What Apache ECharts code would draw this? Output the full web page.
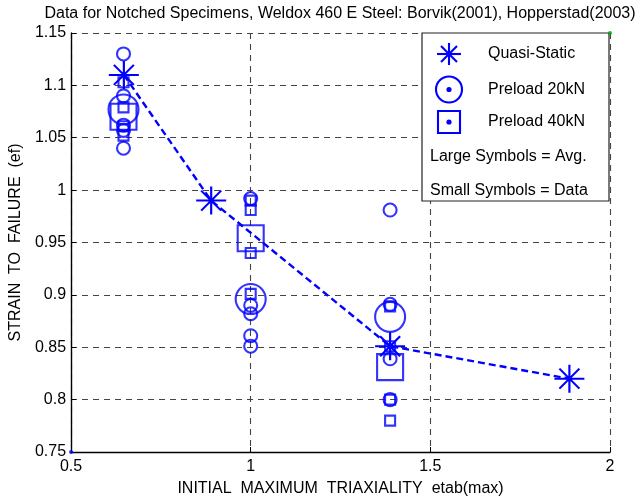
<!DOCTYPE html>
<html><head><meta charset="utf-8">
<script src="https://cdn.jsdelivr.net/npm/echarts@6/dist/echarts.min.js"></script>
<style>html,body{margin:0;padding:0;background:#fff}#c{width:639px;height:502px}</style>
</head><body><div id="c"></div>
<script>
const titleText = 'Data for Notched Specimens, Weldox 460 E Steel: Borvik(2001), Hopperstad(2003)';
const xName = 'INITIAL  MAXIMUM  TRIAXIALITY  etab(max)';
const yName = 'STRAIN  TO  FAILURE  (ef)';
const legendNames = ['Quasi-Static', 'Preload 20kN', 'Preload 40kN'];
const legendNotes = ['Large Symbols = Avg.', 'Small Symbols = Data'];

// Quasi-static (asterisks joined by dashed line)
const quasiX = [0.647, 0.89, 1.388, 1.887];
const quasiY = [1.11, 0.99, 0.851, 0.82];

// triaxiality of the preload test groups
const groupX = [0.646, 1.0, 1.388];
// Preload 20kN: data (small circles) and average (large circle)
const p20Data = [[1.13, 1.09, 1.062, 1.057, 1.04], [0.992, 0.89, 0.882, 0.861, 0.851], [0.981, 0.891, 0.839, 0.80]];
const p20Avg = [1.077, 0.896, 0.879];
// Preload 40kN: data (small squares) and average (large square)
const p40Data = [[1.103, 1.079, 1.061, 1.052], [0.99, 0.981, 0.94, 0.901], [0.889, 0.851, 0.80, 0.78]];
const p40Avg = [1.07, 0.954, 0.831];
// corner dots present in the source figure
const cornerDots = [[2, 1.15, '#00a000'], [0.5, 0.75, '#0000ff']];

const BLUE = '#0000ff';
const FONT = 'Liberation Sans, Arial, Helvetica, sans-serif';
const FS = 16;
const LW = 2.1;
const star = 'path://M0,-14L0,14M-15,0L15,0M-10,-10L10,10M-10,10L10,-10';

const pts = (groups) => groups.flatMap((g, i) => g.map(v => [groupX[i], v]));
const avgPts = (a) => a.map((v, i) => [groupX[i], v]);
const hollow = { color: 'rgba(0,0,0,0)', borderColor: BLUE, borderWidth: LW };

const chart = echarts.init(document.getElementById('c'), null, { renderer: 'canvas' });

const LX = 449;
const legendGraphic = [
  { type: 'rect', shape: { x: 422, y: 33, width: 187, height: 168 }, style: { fill: '#fff', stroke: '#222', lineWidth: 1.2 }, z: 10 },
  { type: 'line', shape: { x1: LX - 12, y1: 54, x2: LX + 12, y2: 54 }, style: { stroke: BLUE, lineWidth: LW }, z: 11 },
  { type: 'line', shape: { x1: LX, y1: 43, x2: LX, y2: 65 }, style: { stroke: BLUE, lineWidth: LW }, z: 11 },
  { type: 'line', shape: { x1: LX - 8, y1: 46, x2: LX + 8, y2: 62 }, style: { stroke: BLUE, lineWidth: LW }, z: 11 },
  { type: 'line', shape: { x1: LX - 8, y1: 62, x2: LX + 8, y2: 46 }, style: { stroke: BLUE, lineWidth: LW }, z: 11 },
  { type: 'circle', shape: { cx: LX, cy: 89.5, r: 13 }, style: { fill: 'none', stroke: BLUE, lineWidth: LW }, z: 11 },
  { type: 'circle', shape: { cx: LX, cy: 89.5, r: 2.6 }, style: { fill: BLUE }, z: 11 },
  { type: 'rect', shape: { x: LX - 11, y: 111, width: 22, height: 22 }, style: { fill: 'none', stroke: BLUE, lineWidth: LW }, z: 11 },
  { type: 'circle', shape: { cx: LX, cy: 122, r: 2.6 }, style: { fill: BLUE }, z: 11 }
];
[54, 89.5, 122].forEach((y, i) => legendGraphic.push({
  type: 'text', x: 488, y: y, z: 11,
  style: { text: legendNames[i], fill: '#000', font: FS + 'px ' + FONT, verticalAlign: 'middle', align: 'left' }
}));
[157, 190.5].forEach((y, i) => legendGraphic.push({
  type: 'text', x: 430, y: y, z: 11,
  style: { text: legendNotes[i], fill: '#000', font: FS + 'px ' + FONT, verticalAlign: 'middle', align: 'left' }
}));
legendGraphic.push({
  type: 'text', x: 340, y: 14, z: 11,
  style: { text: titleText, fill: '#000', font: '16px ' + FONT, verticalAlign: 'middle', align: 'center' }
});

const gridDash = { color: '#444', width: 1.1, type: [6, 5] };

chart.setOption({
  animation: false,
  backgroundColor: '#fff',
  grid: { left: 71, right: 29, top: 33, bottom: 46, containLabel: false },
  xAxis: {
    type: 'value', min: 0.5, max: 2, interval: 0.5,
    name: xName, nameLocation: 'middle', nameGap: 29,
    nameTextStyle: { color: '#000', fontSize: FS, fontFamily: FONT },
    axisLine: { show: true, onZero: false, lineStyle: { color: '#000', width: 1.4 } },
    axisTick: { show: true, inside: true, length: 5, lineStyle: { color: '#000' } },
    axisLabel: { color: '#000', fontSize: FS, fontFamily: FONT, margin: 7 },
    splitLine: { show: true, lineStyle: gridDash }
  },
  yAxis: {
    type: 'value', min: 0.75, max: 1.15, interval: 0.05,
    name: yName, nameLocation: 'middle', nameGap: 46,
    nameTextStyle: { color: '#000', fontSize: FS, fontFamily: FONT },
    axisLine: { show: true, onZero: false, lineStyle: { color: '#000', width: 1.4 } },
    axisTick: { show: true, inside: true, length: 5, lineStyle: { color: '#000' } },
    axisLabel: { color: '#000', fontSize: FS, fontFamily: FONT, margin: 5,
      formatter: v => String(parseFloat(v.toFixed(2))) },
    splitLine: { show: true, lineStyle: gridDash }
  },
  graphic: legendGraphic,
  series: [
    { name: legendNames[0], type: 'line', data: quasiX.map((x, i) => [x, quasiY[i]]),
      symbol: star, symbolSize: [30, 28], symbolKeepAspect: false,
      itemStyle: { color: 'rgba(0,0,0,0)', borderColor: BLUE, borderWidth: LW },
      lineStyle: { color: BLUE, width: 2.4, type: [7, 4] }, z: 5 },
    { name: legendNames[1] + ' data', type: 'scatter', data: pts(p20Data), symbol: 'circle', symbolSize: 13, itemStyle: hollow, z: 4 },
    { name: legendNames[1] + ' avg', type: 'scatter', data: avgPts(p20Avg), symbol: 'circle', symbolSize: 30, itemStyle: hollow, z: 4 },
    { name: legendNames[2] + ' data', type: 'scatter', data: pts(p40Data), symbol: 'rect', symbolSize: 10, itemStyle: hollow, z: 4 },
    { name: legendNames[2] + ' avg', type: 'scatter', data: avgPts(p40Avg), symbol: 'rect', symbolSize: 26, itemStyle: hollow, z: 4 },
    { name: 'corner', type: 'scatter', data: cornerDots.map(d => ({ value: [d[0], d[1]], itemStyle: { color: d[2] } })),
      symbol: 'circle', symbolSize: 4, z: 12 }
  ]
});
</script></body></html>
